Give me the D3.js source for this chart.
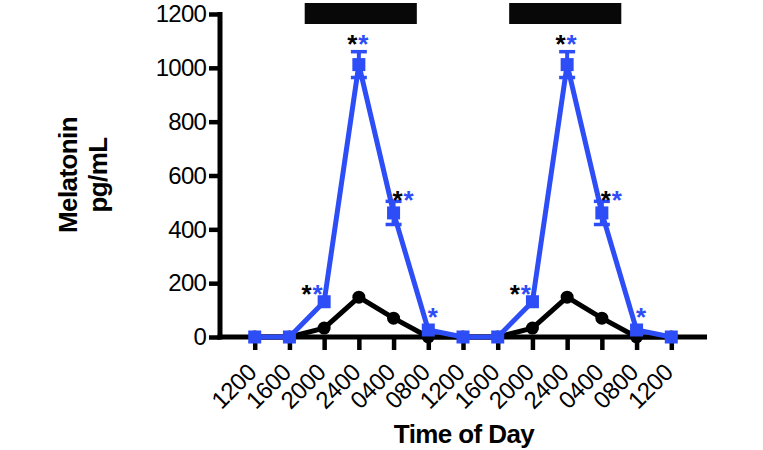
<!DOCTYPE html>
<html>
<head>
<meta charset="utf-8">
<script src="https://cdn.jsdelivr.net/npm/d3@7"></script>
<style>
  html, body { margin: 0; padding: 0; background: #fff; }
  svg { display: block; font-family: "Liberation Sans", Arial, Helvetica, sans-serif; }
</style>
</head>
<body>
<svg id="chart" width="763" height="450"></svg>
<script>
// ---- data ----
const timeLabels = ["1200","1600","2000","2400","0400","0800","1200","1600","2000","2400","0400","0800","1200"];
const blueValues  = [0, 0, 131, 1012, 461, 26, 0, 0, 131, 1012, 461, 26, 0];
const blueErrors  = [0, 0, 0, 48, 43, 0, 0, 0, 0, 48, 43, 0, 0];
const blackValues = [0, 0, 33, 148, 70, 0, 0, 0, 33, 148, 70, 0, 0];
const yTicks = [0, 200, 400, 600, 800, 1000, 1200];
// dark periods (in time-point index units)
const darkStart = [1.44, 7.33];
const darkEnd   = [4.67, 10.56];
// significance marks: index of time point, which stars
const sigIndex  = [2, 3, 4, 5, 8, 9, 10, 11];
const sigBlack  = [true, true, true, false, true, true, true, false];
const sigBlue   = [true, true, true, true, true, true, true, true];

// ---- layout ----
const BLUE = "#2d4df7";
const svg = d3.select("#chart");
const x = d3.scaleLinear().domain([-1, 13]).range([220, 706]);
const y = d3.scaleLinear().domain([0, 1200]).range([337, 14]);

// dark bars
svg.selectAll("rect.dark").data(darkStart).join("rect")
  .attr("x", (d) => x(d))
  .attr("width", (d, i) => x(darkEnd[i]) - x(d))
  .attr("y", 3).attr("height", 21)
  .attr("fill", "#080808");

// y axis
const yAxis = svg.append("g").attr("transform", "translate(220,0)")
  .call(d3.axisLeft(y).tickValues(yTicks).tickSize(11).tickPadding(3).tickFormat(d3.format("d")));
yAxis.select(".domain").remove();
yAxis.selectAll(".tick line").attr("stroke", "#000").attr("stroke-width", 4.5);
yAxis.selectAll(".tick text").attr("font-size", 24).attr("fill", "#000").attr("letter-spacing", -0.8);
svg.append("line").attr("x1", 220).attr("x2", 220).attr("y1", y(1200) - 2).attr("y2", y(0) + 2.5)
  .attr("stroke", "#000").attr("stroke-width", 5);

// x axis
const xAxis = svg.append("g").attr("transform", "translate(0," + y(0) + ")")
  .call(d3.axisBottom(x).tickValues(d3.range(timeLabels.length)).tickSize(13).tickFormat(() => ""));
xAxis.select(".domain").remove();
xAxis.selectAll(".tick line").attr("stroke", "#000").attr("stroke-width", 4.5);
svg.append("line").attr("x1", 217.5).attr("x2", 707).attr("y1", y(0)).attr("y2", y(0))
  .attr("stroke", "#000").attr("stroke-width", 5);

svg.append("g").selectAll("text").data(timeLabels).join("text")
  .attr("transform", (d, i) => `translate(${x(i) + 3},374) rotate(-45)`)
  .attr("text-anchor", "end")
  .attr("font-size", 24)
  .attr("letter-spacing", -0.5)
  .attr("fill", "#000")
  .text((d) => d);

// axis titles
svg.append("text").attr("x", 464).attr("y", 443).attr("text-anchor", "middle")
  .attr("font-size", 26).attr("font-weight", "bold").attr("letter-spacing", -0.6).text("Time of Day");
svg.append("text").attr("transform", "translate(77,175) rotate(-90)").attr("text-anchor", "middle")
  .attr("font-size", 26).attr("font-weight", "bold").attr("letter-spacing", -0.6).text("Melatonin");
svg.append("text").attr("transform", "translate(107,175) rotate(-90)").attr("text-anchor", "middle")
  .attr("font-size", 26).attr("font-weight", "bold").attr("letter-spacing", -0.6).text("pg/mL");

// black series
const line = d3.line().x((d, i) => x(i)).y((d) => y(d));
svg.append("path").datum(blackValues).attr("d", line)
  .attr("fill", "none").attr("stroke", "#000").attr("stroke-width", 5).attr("stroke-linejoin", "round");
svg.append("g").selectAll("circle").data(blackValues).join("circle")
  .attr("cx", (d, i) => x(i)).attr("cy", (d) => y(d)).attr("r", 6.5).attr("fill", "#000");

// blue series
svg.append("path").datum(blueValues).attr("d", line)
  .attr("fill", "none").attr("stroke", BLUE).attr("stroke-width", 5).attr("stroke-linejoin", "round");
const eb = svg.append("g");
blueValues.forEach((v, i) => {
  const e = blueErrors[i];
  if (!e) return;
  eb.append("line").attr("x1", x(i)).attr("x2", x(i)).attr("y1", y(v + e)).attr("y2", y(v - e))
    .attr("stroke", BLUE).attr("stroke-width", 4);
  [v + e, v - e].forEach((w) => {
    eb.append("line").attr("x1", x(i) - 8).attr("x2", x(i) + 8).attr("y1", y(w)).attr("y2", y(w))
      .attr("stroke", BLUE).attr("stroke-width", 3.5);
  });
});
svg.append("g").selectAll("rect").data(blueValues).join("rect")
  .attr("x", (d, i) => x(i) - 6.5).attr("y", (d) => y(d) - 6.5)
  .attr("width", 13).attr("height", 13).attr("fill", BLUE);

// significance stars (placement offsets per time-point phase)
const starDx = {2: -12, 3: -1, 4: 9.5, 5: 4.5};
const starDy = {2: -14, 3: -27, 4: -19, 5: -19};
const stars = svg.append("g").attr("font-size", 26).attr("font-weight", "bold");
sigIndex.forEach((idx, k) => {
  const phase = idx % 6;
  const cx = x(idx) + starDx[phase];
  const cy = y(blueValues[idx]) + starDy[phase];
  if (sigBlack[k]) {
    stars.append("text").attr("x", cx - 5.5).attr("y", cy + 15).attr("text-anchor", "middle")
      .attr("fill", "#000").text("*");
  }
  if (sigBlue[k]) {
    const bx = sigBlack[k] ? cx + 5.5 : cx;
    stars.append("text").attr("x", bx).attr("y", cy + 15).attr("text-anchor", "middle")
      .attr("fill", BLUE).text("*");
  }
});
</script>
</body>
</html>
